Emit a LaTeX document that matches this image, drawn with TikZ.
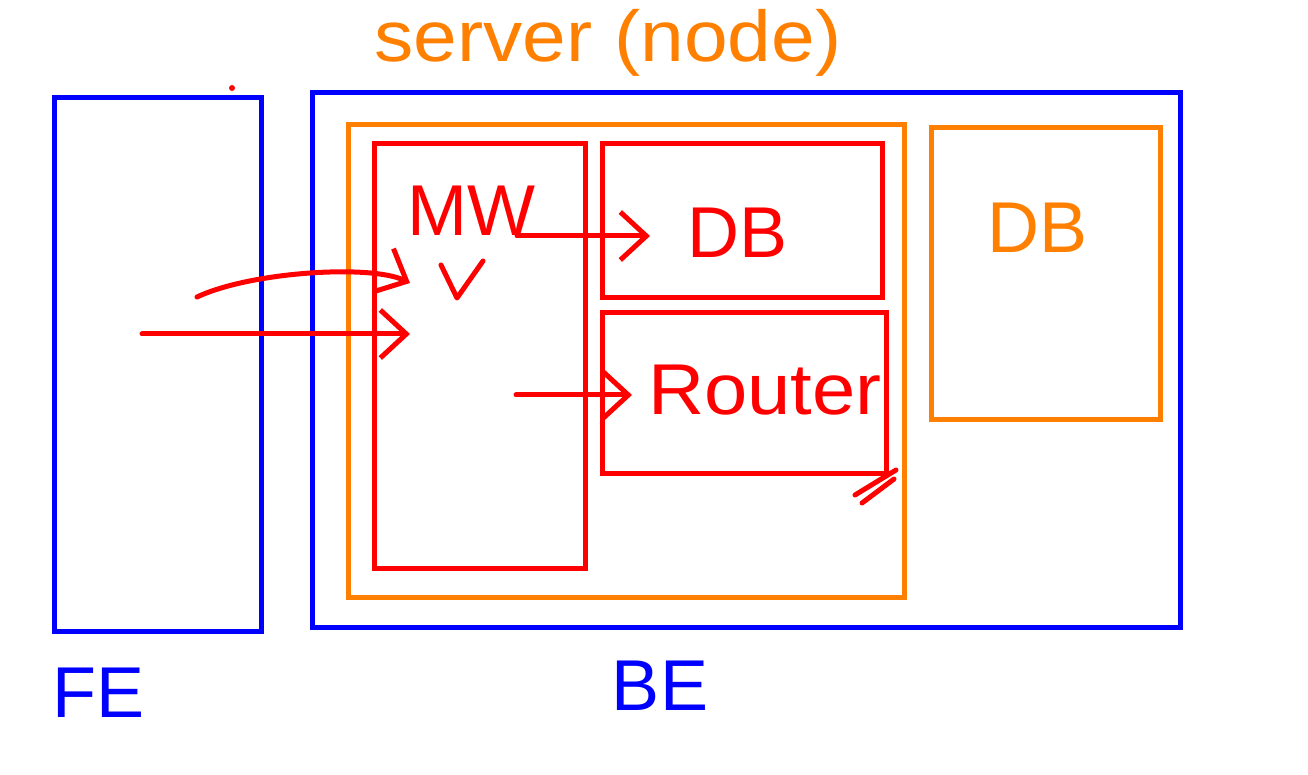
\documentclass[tikz,border=0pt]{standalone}
\usepackage{fontspec}
\setmainfont{Liberation Sans}
\usetikzlibrary{arrows.meta}
\definecolor{penblue}{RGB}{0,0,255}
\definecolor{penorange}{RGB}{255,128,0}
\definecolor{penred}{RGB}{255,0,0}

\begin{document}
\begin{tikzpicture}
		[x=0.5pt,y=-0.5pt,
		 box/.style={draw,line width=2.5pt,inner sep=0pt},
		 bluebox/.style={box,penblue},
		 orangebox/.style={box,penorange},
		 redbox/.style={box,penred},
		 label/.style={inner sep=0pt,font=\fontsize{36}{42}\selectfont},
		 pen/.style={penred,line width=2.5pt,line cap=round,line join=round},
		 >={Straight Barb[length=13pt,width=24pt]}]
		\useasboundingbox (0,0) rectangle (1308,775);

		% draw the front end and back end
		\node [bluebox,minimum width=103.5pt,minimum height=266.5pt] (fe) at (157.5,364.5) {};
		\node [bluebox,minimum width=434pt,minimum height=267pt] (be) at (746,360) {};
		\node [label,penblue] (felabel) at (99,693) {FE};
		\node [label,penblue] (belabel) at (660,686) {BE};

		% draw the server and the outer db
		\node [orangebox,minimum width=278pt,minimum height=236pt] (server) at (626,361) {};
		\node [orangebox,minimum width=114.5pt,minimum height=146pt] (dbout) at (1045.5,274) {};
		\node [label,penorange,xscale=1.09] (serverlabel) at (608,43) {server (node)};
		\node [label,penorange] (dboutlabel) at (1038,228) {DB};

		% draw the parts inside the server
		\node [redbox,minimum width=105.5pt,minimum height=212pt] (mw) at (479.5,356) {};
		\node [redbox,minimum width=140pt,minimum height=77pt] (dbin) at (742,221) {};
		\node [redbox,minimum width=142pt,minimum height=80.5pt] (router) at (744,393.5) {};
		\node [label,penred] (mwlabel) at (471,211) {MW};
		\node [label,penred] (dbinlabel) at (738,233) {DB};
		\node [label,penred,xscale=1.08] (routerlabel) at (765,390) {Router};

		% draw the requests
		\coordinate (req) at (142,334);
		\coordinate (reqend) at (410,334);
		\coordinate (call) at (197,297);
		\coordinate (callend) at (410,283);
		\coordinate (todb) at (517,236);
		\coordinate (todbend) at (650,236);
		\coordinate (torouter) at (516,395);
		\coordinate (torouterend) at (632,395);
		\draw [pen,->] (req) -- (reqend);
		\draw [pen,->] (call) .. controls (250,272) and (370,264) .. (callend);
		\draw [pen,->] (todb) -- (todbend);
		\draw [pen,->] (torouter) -- (torouterend);

		%draw the marks
		\draw [pen] (441,265) -- (457,298) -- (483,261);
		\draw [pen] (855,495) -- (896,470);
		\draw [pen] (862,503) -- (894,479);
		\fill [penred] (232,88) circle (1.5pt);
	\end{tikzpicture}
\end{document}
